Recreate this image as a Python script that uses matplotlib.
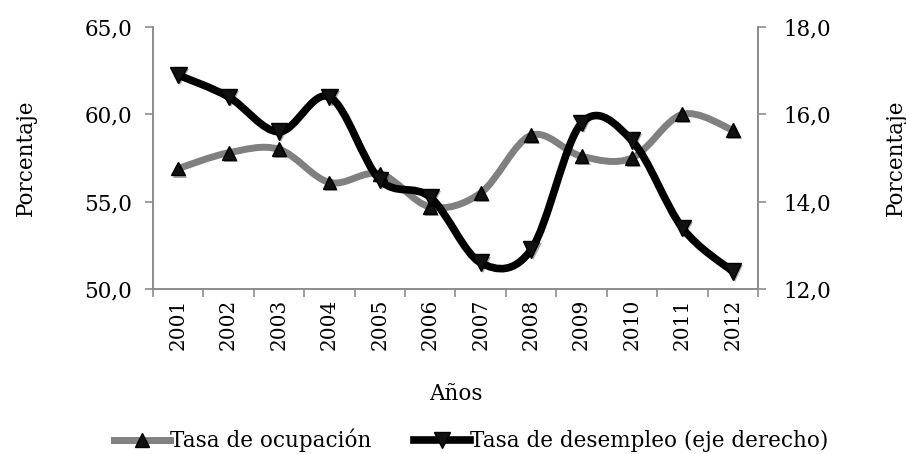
import numpy as np
import matplotlib
matplotlib.use("Agg")
import matplotlib.pyplot as plt
import matplotlib.patheffects as pe
from matplotlib.path import Path
from matplotlib.patches import PathPatch
from matplotlib.lines import Line2D

years = ["2001", "2002", "2003", "2004", "2005", "2006",
         "2007", "2008", "2009", "2010", "2011", "2012"]
ocupacion = [56.9, 57.8, 58.0, 56.1, 56.6, 54.7, 55.5, 58.8, 57.6, 57.5, 60.0, 59.1]
desempleo = [16.9, 16.4, 15.6, 16.4, 14.5, 14.1, 12.6, 12.9, 15.8, 15.4, 13.4, 12.4]

left_ticks = [50.0, 55.0, 60.0, 65.0]
right_ticks = [12.0, 14.0, 16.0, 18.0]

GRAY = "#808080"
AXIS = "#8c8c8c"
FS = 15.5
plt.rcParams["font.family"] = ["DejaVu Serif"]

shadow = [pe.SimplePatchShadow(offset=(1.5, -1.5), alpha=0.35), pe.Normal()]


def smooth_path(x, y):
    """Excel-like smoothed line as cubic Bezier segments."""
    x = np.asarray(x, float)
    y = np.asarray(y, float)
    n = len(x)
    verts = [(x[0], y[0])]
    codes = [Path.MOVETO]
    for i in range(n - 1):
        p0 = i - 1 if i > 0 else i
        p3 = i + 2 if i + 2 < n else i + 1
        c1 = (x[i] + (x[i + 1] - x[p0]) / 6, y[i] + (y[i + 1] - y[p0]) / 6)
        c2 = (x[i + 1] - (x[p3] - x[i]) / 6, y[i + 1] - (y[p3] - y[i]) / 6)
        verts += [c1, c2, (x[i + 1], y[i + 1])]
        codes += [Path.CURVE4] * 3
    return Path(verts, codes)


fig = plt.figure(figsize=(9.06, 4.54), dpi=100)
ax = fig.add_axes([0.1689, 0.3634, 0.6677, 0.5771])
ax2 = ax.twinx()

xs = np.arange(len(years))

ax.add_patch(PathPatch(smooth_path(xs, ocupacion), fill=False, edgecolor=GRAY,
                       lw=5, capstyle="round", joinstyle="round", zorder=2))
ax.plot(xs, ocupacion, ls="none", marker="^", ms=10, color="#111111",
        mec="#000000", zorder=3, path_effects=shadow)

ax2.add_patch(PathPatch(smooth_path(xs, desempleo), fill=False, edgecolor="black",
                        lw=5.5, capstyle="round", joinstyle="round", zorder=2))
ax2.plot(xs, desempleo, ls="none", marker="v", ms=12, color="#111111",
         mec="#000000", zorder=3, path_effects=shadow)

ax.set_xlim(-0.5, len(years) - 0.5)
ax.set_ylim(50, 65)
ax2.set_ylim(12, 18)
ax.set_yticks(left_ticks)
ax.set_yticklabels([f"{v:.1f}".replace(".", ",") for v in left_ticks])
ax2.set_yticks(right_ticks)
ax2.set_yticklabels([f"{v:.1f}".replace(".", ",") for v in right_ticks])

ax.set_xticks(xs)
ax.set_xticklabels(years, rotation=90)
ax.set_xticks(np.arange(-0.5, len(years)), minor=True)
ax.tick_params(axis="x", which="major", length=0, pad=7, labelsize=14.5)
ax.tick_params(axis="x", which="minor", length=6, color=AXIS, width=1.2)

for a in (ax, ax2):
    a.spines["top"].set_visible(False)
    for s in ("left", "right", "bottom"):
        a.spines[s].set_color(AXIS)
        a.spines[s].set_linewidth(1.2)
ax.tick_params(axis="y", length=6, color=AXIS, width=1.2, labelsize=FS, pad=9)
ax2.tick_params(axis="y", length=6, color=AXIS, width=1.2, labelsize=FS, pad=12)

ax.set_ylabel("Porcentaje", fontsize=FS, labelpad=34)
ax2.set_ylabel("Porcentaje", fontsize=FS, rotation=90, labelpad=39)
ax.set_xlabel("Años", fontsize=FS, labelpad=24)

handles = [
    Line2D([], [], color=GRAY, lw=5, marker="^", ms=10, mfc="#111111", mec="black"),
    Line2D([], [], color="black", lw=5.5, marker="v", ms=12, mfc="#111111", mec="black"),
]
fig.legend(handles, ["Tasa de ocupación", "Tasa de desempleo (eje derecho)"],
           loc="center", bbox_to_anchor=(0.52, 0.03), ncol=2, frameon=False,
           fontsize=FS, handlelength=2.6, handletextpad=0.0, columnspacing=2.0)

fig.savefig("out.png", dpi=100)
